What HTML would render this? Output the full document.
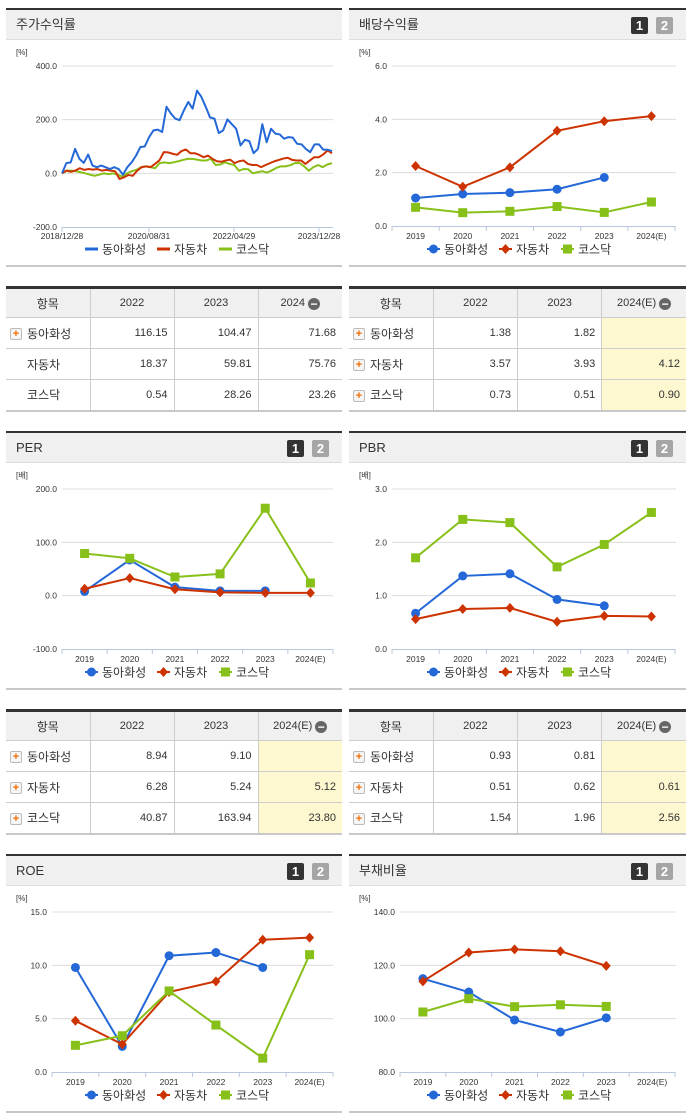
<!DOCTYPE html>
<html><head><meta charset="utf-8">
<style>
body{margin:0;background:#fff;width:691px;height:1115px;position:relative;overflow:hidden;font-family:"Liberation Sans","Noto Sans CJK KR",sans-serif;}
.abs{position:absolute;}
.topb{position:absolute;height:3px;background:#333;}
.hdr{position:absolute;height:30px;background:#f0f0f0;border-bottom:1px solid #ddd;font-size:13px;color:#333;line-height:30px;box-sizing:border-box;padding-left:10px;}
.btn{position:absolute;top:7px;width:17px;height:17px;border-radius:2px;color:#fff;font-weight:bold;font-size:13px;line-height:17px;text-align:center;}
.botb{position:absolute;height:2px;background:#c8c8c8;}
table{position:absolute;border-collapse:collapse;border-top:3px solid #333;border-bottom:2px solid #c8c8c8;table-layout:fixed;font-size:11px;color:#333;}
td,th{border-left:1px solid #ccc;border-bottom:1px solid #ccc;padding:0 6px;box-sizing:border-box;}
td{height:31px;}
tr td:first-child,tr th:first-child{border-left:none;}
th{background:#f0f0f0;font-weight:normal;font-size:11px;height:30px;}
th.f{font-size:12px;}
td{text-align:right;}
td.n{text-align:left;font-size:12px;padding-left:4px;}
td.y{background:#fdf8d0;}
.plus{display:inline-block;width:10px;height:10px;border:1px solid #bbb;border-radius:2px;background:#f6f6f6;color:#f26a00;font-size:11px;line-height:10px;text-align:center;font-weight:bold;vertical-align:middle;margin-right:5px;}
.sp{display:inline-block;width:17px;}
.minus{display:inline-block;width:12px;height:12px;border-radius:6px;background:#666;color:#fff;line-height:12px;text-align:center;font-weight:bold;vertical-align:-2px;margin-left:3px;font-size:12px;}
svg text{font-family:"Liberation Sans","Noto Sans CJK KR",sans-serif;}
</style></head>
<body>
<div id="root"></div>
<script>
// ---------- data ----------
const years = ['2019','2020','2021','2022','2023','2024(E)'];
const seriesNames = ['동아화성','자동차','코스닥'];
const stockTicks = ['2018/12/28','2020/08/31','2022/04/29','2023/12/28'];
const stockTickVals = [400,200,0,-200];
const stockDong = [0,38,41,91,54,39,70,29,23,29,23,16,23,16,-5,23,41,66,98,100,135,160,163,154,248,223,204,198,235,266,241,308,285,248,208,204,150,160,201,183,166,104,125,120,75,91,183,116,166,148,145,129,135,133,110,108,91,79,108,108,88,88,83];
const stockCar = [0,10,6,10,19,13,16,14,16,10,13,10,8,-21,-15,-6,-9,10,23,26,23,35,48,79,78,73,69,83,89,75,75,69,60,66,54,45,43,48,51,38,45,48,35,31,31,23,31,38,45,50,55,58,50,48,48,35,48,60,60,70,85,75];
const stockKosdaq = [0,10,10,8,4,0,-5,-9,-5,0,-3,0,-5,-13,0,8,13,23,26,23,19,38,41,38,41,45,50,54,54,51,48,48,54,31,33,41,35,31,10,16,15,0,4,8,3,10,20,26,26,30,38,39,26,10,23,31,23,33,38];
const divTicks = [6,4,2,0];
const divDong = [1.05,1.2,1.25,1.38,1.82,null];
const divCar = [2.25,1.47,2.2,3.57,3.93,4.12];
const divKosdaq = [0.7,0.5,0.55,0.73,0.51,0.9];
const perTicks = [200,100,0,-100];
const perDong = [8,67,16,8.94,9.1,null];
const perCar = [13,33,12,6.28,5.24,5.12];
const perKosdaq = [79,70,35,40.87,163.94,23.8];
const pbrTicks = [3,2,1,0];
const pbrDong = [0.67,1.37,1.41,0.93,0.81,null];
const pbrCar = [0.56,0.75,0.77,0.51,0.62,0.61];
const pbrKosdaq = [1.71,2.43,2.37,1.54,1.96,2.56];
const roeTicks = [15,10,5,0];
const roeDong = [9.8,2.4,10.9,11.2,9.8,null];
const roeCar = [4.8,2.6,7.5,8.5,12.4,12.6];
const roeKosdaq = [2.5,3.4,7.6,4.4,1.3,11.0];
const debtTicks = [140,120,100,80];
const debtDong = [115,110,99.5,95,100.3,null];
const debtCar = [114,124.8,126,125.3,119.8,null];
const debtKosdaq = [102.5,107.5,104.5,105.2,104.6,null];
const tblCols1 = ['2022','2023','2024'];
const tblColsE = ['2022','2023','2024(E)'];
const t1Rows = [['116.15','104.47','71.68'],['18.37','59.81','75.76'],['0.54','28.26','23.26']];
const t2Rows = [['1.38','1.82',''],['3.57','3.93','4.12'],['0.73','0.51','0.90']];
const t3Rows = [['8.94','9.10',''],['6.28','5.24','5.12'],['40.87','163.94','23.80']];
const t4Rows = [['0.93','0.81',''],['0.51','0.62','0.61'],['1.54','1.96','2.56']];

const COLORS = ['#2468d8','#cc3300','#88c01a'];
const MARKS = ['circle','diamond','square'];
const root = document.getElementById('root');
const NS = 'http://www.w3.org/2000/svg';
function el(tag, attrs, parent){const e=document.createElementNS(NS,tag);for(const k in attrs)e.setAttribute(k,attrs[k]);parent.appendChild(e);return e;}
function div(cls, style, parent, html){const d=document.createElement('div');d.className=cls;d.setAttribute('style',style);if(html!==undefined)d.innerHTML=html;parent.appendChild(d);return d;}

function panel(x,w,oy,title,name,buttons){
  const t=div('topb',`left:${x}px;top:${oy+8}px;width:${w}px`,root);
  
  
  const h=div('hdr',`left:${x}px;top:${oy+10}px;width:${w}px`,root,title);
  
  
  if(buttons){
    const b1=div('btn',`left:${w-55}px;background:#333`,h,'1');
    
    
    const b2=div('btn',`left:${w-30}px;background:#a5a5a5`,h,'2');
    
    
  }
  const bb=div('botb',`left:${x}px;top:${oy+265}px;width:${w}px`,root);
  
  
  const svg=document.createElementNS(NS,'svg');
  svg.setAttribute('width',w);svg.setAttribute('height',225);
  svg.setAttribute('style',`position:absolute;left:${x}px;top:${oy+41}px`);
  
  
  root.appendChild(svg);
  return svg;
}

function marker(g,type,cx,cy,color){
  let m;
  if(type==='circle') m=el('circle',{cx:cx,cy:cy,r:4.5,fill:color},g);
  else if(type==='diamond') m=el('polygon',{points:`${cx},${cy-5} ${cx+4.5},${cy} ${cx},${cy+5} ${cx-4.5},${cy}`,fill:color},g);
  else m=el('rect',{x:cx-4.5,y:cy-4.5,width:9,height:9,fill:color},g);
  return m;
}

function catChart(svg,px,oy,name,unit,ticks,ax1,ax2,gridEnd,data,legendCx){
  const yTop=66-41, yBot=226-41;
  const vmax=ticks[0], vmin=ticks[ticks.length-1];
  const Y=v=>yTop+(vmax-v)/(vmax-vmin)*(yBot-yTop);
  const a1=ax1-px,a2=ax2-px,bw=(a2-a1)/years.length;
  const X=i=>a1+bw*(i+0.5);
  const u=el('text',{x:10,y:14,'font-size':8,fill:'#333'},svg);u.textContent=unit;
  
  
  ticks.forEach(t=>{
    if(t!==vmin){const l=el('line',{x1:a1,x2:gridEnd-px,y1:Y(t),y2:Y(t),stroke:'#dcdcdc','stroke-width':1},svg);
      
      }
    const tx=el('text',{x:a1-5,y:Y(t)+3,'font-size':8.5,'text-anchor':'end',fill:'#333'},svg);
    tx.textContent=t.toFixed(1);
    
    
  });
  const ax=el('line',{x1:a1,x2:a2,y1:yBot+0.5,y2:yBot+0.5,stroke:'#b8c8dc'},svg);
  
  
  for(let i=0;i<=years.length;i++){
    const tk=el('line',{x1:a1+bw*i,x2:a1+bw*i,y1:yBot,y2:yBot+5,stroke:'#b8c8dc'},svg);
    
    
  }
  years.forEach((yr,i)=>{
    const t=el('text',{x:X(i),y:yBot+13,'font-size':8.5,'text-anchor':'middle',fill:'#333'},svg);
    t.textContent=yr;
    
    
  });
  data.forEach((vals,s)=>{
    let pts=[];
    const segs=[];
    vals.forEach((v,i)=>{if(v===null){if(pts.length)segs.push(pts);pts=[];}else pts.push(X(i)+','+Y(v));});
    if(pts.length)segs.push(pts);
    segs.forEach(sg=>{const p=el('polyline',{points:sg.join(' '),fill:'none',stroke:COLORS[s],'stroke-width':2},svg);
      
      });
    vals.forEach((v,i)=>{if(v===null)return;const m=marker(svg,MARKS[s],X(i),Y(v),COLORS[s]);
      
      });
  });
  legend(svg,legendCx-px,208,name,false);
}

function legend(svg,cx,y,name,lineStyle){
  const widths=[62,52,52];
  const total=widths.reduce((a,b)=>a+b,0)+20;
  let x=cx-total/2;
  seriesNames.forEach((n,s)=>{
    const g=el('g',{},svg);
    
    
    el('line',{x1:x,x2:x+13,y1:y,y2:y,stroke:COLORS[s],'stroke-width':lineStyle?3:2},g);
    if(!lineStyle) marker(g,MARKS[s],x+6.5,y,COLORS[s]);
    const t=el('text',{x:x+17,y:y+4.5,'font-size':12,fill:'#333'},g);t.textContent=n;
    x+=widths[s]+10;
  });
}

(function(){
  const svg=panel(6,336,0,'주가수익률','stock-return',false);
  const px=6,yTop=25,yBot=186,a1=62-px,a2=333-px,vmax=400,vmin=-200;
  const Y=v=>yTop+(vmax-v)/(vmax-vmin)*(yBot-yTop);
  const u=el('text',{x:10,y:14,'font-size':8,fill:'#333'},svg);u.textContent='[%]';
  
  
  stockTickVals.forEach(t=>{
    if(t!==vmin){const l=el('line',{x1:a1,x2:a2,y1:Y(t),y2:Y(t),stroke:'#dcdcdc'},svg);
      
      }
    const tx=el('text',{x:a1-5,y:Y(t)+3,'font-size':8.5,'text-anchor':'end',fill:'#333'},svg);
    tx.textContent=t.toFixed(1);
    
    
  });
  const ax=el('line',{x1:a1,x2:a2,y1:yBot+0.5,y2:yBot+0.5,stroke:'#b8c8dc'},svg);
  
  
  const tickX=[62,149,234,319];
  stockTicks.forEach((lab,i)=>{
    const tk=el('line',{x1:tickX[i]-px,x2:tickX[i]-px,y1:yBot,y2:yBot+5,stroke:'#b8c8dc'},svg);
    
    
    const t=el('text',{x:tickX[i]-px,y:yBot+12,'font-size':8.5,'text-anchor':'middle',fill:'#333'},svg);
    t.textContent=lab;
    
    
  });
  [stockKosdaq,stockCar,stockDong].forEach((vals,k)=>{
    const s=2-k;
    const n=vals.length;
    const pts=vals.map((v,i)=>(a1+(a2-1-a1)*i/(n-1))+','+Y(v)).join(' ');
    const p=el('polyline',{points:pts,fill:'none',stroke:COLORS[s],'stroke-width':2,'stroke-linejoin':'round'},svg);
    
    
  });
  legend(svg,178-px,208,'stock',true);
})();

const dv=panel(349,337,0,'배당수익률','dividend-yield',true);
catChart(dv,349,0,'dividend','[%]',divTicks,392,675,676,[divDong,divCar,divKosdaq],520);
const pe=panel(6,336,423,'PER','per',true);
catChart(pe,6,423,'per','[배]',perTicks,62,333,333,[perDong,perCar,perKosdaq],178);
const pb=panel(349,337,423,'PBR','pbr',true);
catChart(pb,349,423,'pbr','[배]',pbrTicks,392,675,676,[pbrDong,pbrCar,pbrKosdaq],520);
const ro=panel(6,336,846,'ROE','roe',true);
catChart(ro,6,846,'roe','[%]',roeTicks,52,333,333,[roeDong,roeCar,roeKosdaq],178);
const de=panel(349,337,846,'부채비율','debt-ratio',true);
catChart(de,349,846,'debt','[%]',debtTicks,400,675,676,[debtDong,debtCar,debtKosdaq],520);

function table(x,top,w,cols,rows,plusAll,yellow,name){
  const t=document.createElement('table');
  t.setAttribute('style',`left:${x}px;top:${top}px;width:${w}px`);
  
  
  let h='<tr><th class="f">항목</th>';
  cols.forEach((c,i)=>{h+= i===2?`<th>${c}<span class="minus">−</span></th>`:`<th>${c}</th>`;});
  h+='</tr>';
  rows.forEach((r,ri)=>{
    const pl=(plusAll||ri===0)?'<span class="plus">+</span>':'<span class="sp"></span>';
    h+=`<tr><td class="n">${pl}${seriesNames[ri]}</td>`;
    r.forEach((v,ci)=>{h+=`<td class="${ci===2&&yellow?'y':''}">${v}</td>`;});
    h+='</tr>';
  });
  t.innerHTML=h;
  root.appendChild(t);
}
table(6,286,336,tblCols1,t1Rows,false,false,'stock-return-table');
table(349,286,337,tblColsE,t2Rows,true,true,'dividend-table');
table(6,709,336,tblColsE,t3Rows,true,true,'per-table');
table(349,709,337,tblColsE,t4Rows,true,true,'pbr-table');
</script>
</body></html>
